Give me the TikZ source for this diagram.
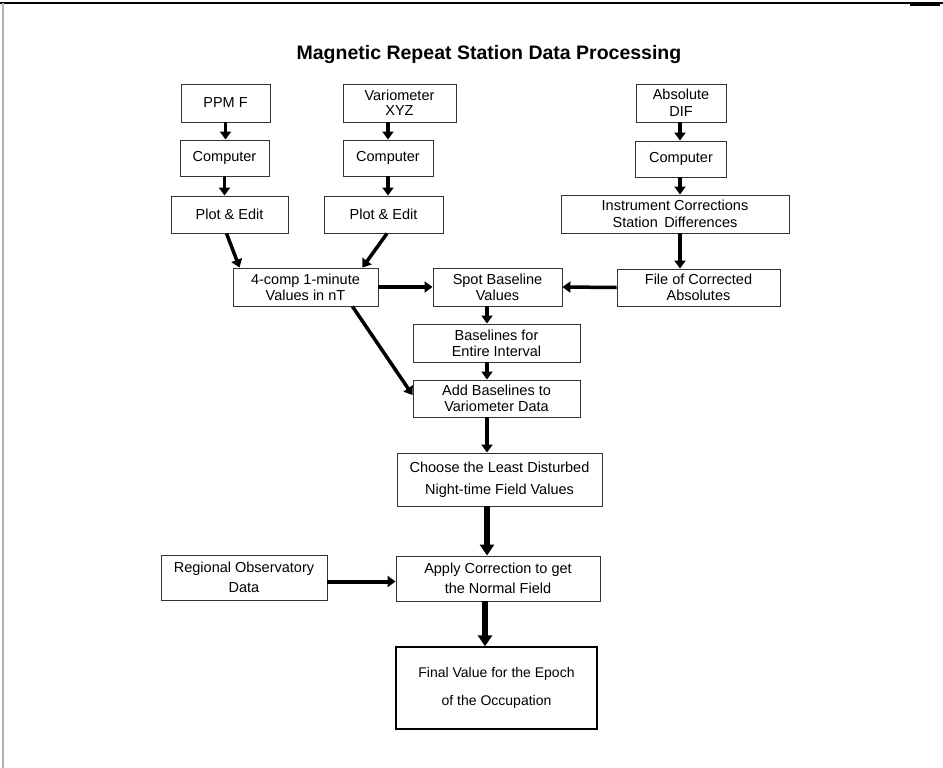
\documentclass[tikz,border=0pt]{standalone}
\usepackage{fontspec}
\setmainfont{Liberation Sans}
\usetikzlibrary{arrows.meta}
\begin{document}
\begin{tikzpicture}[x=1pt,y=-1pt,
  box/.style={draw=black!80, line width=0.9pt, align=center, inner sep=0pt,
    font=\fontsize{14.5}{16}\selectfont},
  lead/.style={font=\fontsize{14.5}{#1}\selectfont},
  arr/.style={line width=3.5pt, -{Triangle[length=8pt,width=11pt]}},
  bigarr/.style={line width=5.5pt, -{Triangle[length=11pt,width=14pt]}}]
\useasboundingbox (0,0) rectangle (943,768);
% frame
\draw[line width=2pt] (0,3) -- (943,3);
\draw[line width=2.5pt] (910,4.5) -- (940,4.5);
\draw[gray!60, line width=1.5pt] (3,3) -- (3,768);
% title
\node[anchor=base, font=\fontsize{19.5}{22}\selectfont\bfseries] (title) at (489,60) {Magnetic Repeat Station Data Processing};
% top row
\node[box, minimum width=89pt, minimum height=38pt] (ppm) at (225.5,103) {PPM F};
\node[box, lead=15, minimum width=113pt, minimum height=38pt] (var) at (399.5,103) {Variometer\\XYZ};
\node[box, lead=17, minimum width=90pt, minimum height=38pt] (abs) at (681,103) {Absolute\\DIF};
% computers
\node[box, minimum width=89pt, minimum height=36pt] (comp1) at (224.5,158) {Computer};
\node[box, minimum width=90pt, minimum height=36pt] (comp2) at (388,158) {Computer};
\node[box, minimum width=91pt, minimum height=36pt] (comp3) at (681,159) {Computer};
% plot & edit / instrument
\node[box, minimum width=117pt, minimum height=37pt] (pe1) at (229.5,214.5) {Plot \& Edit};
\node[box, minimum width=119pt, minimum height=37pt] (pe2) at (383.5,214.5) {Plot \& Edit};
\node[box, lead=17, minimum width=228pt, minimum height=38pt] (inst) at (675,214) {Instrument Corrections\\Station\, Differences};
% middle row
\node[box, minimum width=145pt, minimum height=38pt] (c4) at (305.5,287) {4-comp 1-minute\\Values in nT};
\node[box, minimum width=129pt, minimum height=38pt] (spot) at (497.5,287) {Spot Baseline\\Values};
\node[box, minimum width=163pt, minimum height=37pt] (file) at (698.5,287.5) {File of Corrected\\Absolutes};
% main column
\node[box, minimum width=167pt, minimum height=38pt] (bl) at (496.5,343) {Baselines for\\Entire Interval};
\node[box, minimum width=167pt, minimum height=37pt] (add) at (496.5,398.5) {Add Baselines to\\Variometer Data};
\node[box, lead=22, minimum width=205pt, minimum height=53pt] (choose) at (499.5,479.5) {Choose the Least Disturbed\\Night-time Field Values};
\node[box, lead=20, minimum width=166pt, minimum height=45pt] (reg) at (244,577.5) {Regional Observatory\\Data};
\node[box, lead=20, minimum width=204pt, minimum height=45pt] (apply) at (498,578.5) {Apply Correction to get\\the Normal Field};
\node[box, draw=black, line width=1.4pt, font=\fontsize{14}{28}\selectfont, minimum width=201pt, minimum height=82pt] (final) at (496.5,688) {Final Value for the Epoch\\of the Occupation};
\coordinate (mc) at (487,0);
\coordinate (rc) at (680,0);
% arrows
\draw[arr] (ppm.south) -- (ppm.south |- comp1.north);
\draw[arr] (comp1.south) -- (comp1.south |- pe1.north);
\draw[arr] (var.south -| comp2.south) -- (comp2.north);
\draw[arr] (comp2.south) -- (comp2.south |- pe2.north);
\draw[arr] (abs.south -| rc) -- (comp3.north -| rc);
\draw[arr] (comp3.south -| rc) -- (inst.north -| rc);
\draw[arr] (inst.south -| rc) -- (file.north -| rc);
\draw[arr] ([xshift=-3pt]pe1.south) -- ([xshift=7pt]c4.north west);
\draw[arr] ([xshift=3.5pt]pe2.south) -- ([xshift=-16pt]c4.north east);
\draw[arr] (c4.east) -- (spot.west);
\draw[arr] (file.west) -- (spot.east);
\draw[arr] ([xshift=-26pt]c4.south east) -- ([yshift=3.5pt]add.west);
\draw[arr] (spot.south -| mc) -- (bl.north -| mc);
\draw[arr] (bl.south -| mc) -- (add.north -| mc);
\draw[arr] (add.south -| mc) -- (choose.north -| mc);
\draw[bigarr] (choose.south -| mc) -- (apply.north -| mc);
\draw[arr, line width=4pt] ([yshift=-4pt]reg.east) -- ([yshift=-4pt]reg.east -| apply.west);
\draw[bigarr] ([xshift=-2pt]apply.south -| mc) -- ([xshift=-2pt]final.north -| mc);
\end{tikzpicture}
\end{document}
